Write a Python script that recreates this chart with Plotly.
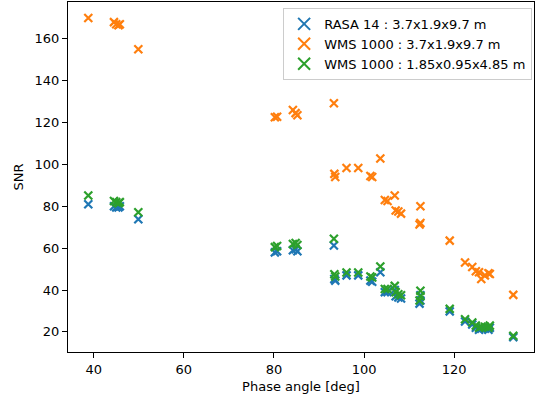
import plotly.graph_objects as go

phase = [38.8, 44.5, 45.0, 45.5, 45.8, 49.9, 80.2, 80.7, 84.2, 84.8, 85.2, 93.3, 93.4, 93.6,
         96.1, 98.7, 101.4, 101.8, 103.6, 104.6, 105.2, 106.8, 107.0, 107.6, 108.2, 112.5,
         112.3, 112.5, 119.0, 122.4, 124.0, 124.8, 125.5, 126.0, 126.8, 127.9, 127.6, 133.1]

snr_rasa = [81, 80, 79.5, 79.5, 80, 73.8, 58, 58.5, 59, 59.5, 58.5, 61.3, 45.3, 44.5,
            47, 47, 44.5, 44, 48.5, 39, 39, 40, 37, 36.5, 36, 37.5,
            33.5, 35, 29.8, 25, 23.5, 22, 21, 21.5, 21.5, 22, 21, 17.5]

snr_wms_big = [170, 168, 167, 166.5, 167, 155, 122.5, 122.8, 126, 124.5, 123.5, 129.2, 95.5, 94,
               98.3, 98.3, 94.5, 94, 102.8, 83, 82.5, 85.2, 78, 77.5, 76.5, 80,
               71.3, 72, 63.6, 53.2, 51, 49, 48.5, 45.3, 47, 47.7, 48, 37.7]

snr_wms_small = [85.2, 82.5, 82, 81.5, 82, 77.2, 60.5, 61, 62, 62.5, 61.5, 64.5, 47.5, 46.5,
                 48.4, 48.4, 46.5, 46, 51.2, 40.5, 40.5, 42, 39, 38, 37.5, 39.7,
                 35, 37, 31, 26, 24.5, 23, 22, 22.5, 22.5, 23, 22, 18.1]

names = ["RASA 14 : 3.7x1.9x9.7 m", "WMS 1000 : 3.7x1.9x9.7 m", "WMS 1000 : 1.85x0.95x4.85 m"]
colors = ["#1f77b4", "#ff7f0e", "#2ca02c"]
series = [snr_rasa, snr_wms_big, snr_wms_small]

fig = go.Figure()
for name, col, ys in zip(names, colors, series):
    fig.add_trace(go.Scatter(
        x=phase, y=ys, mode="markers", name=name,
        marker=dict(symbol="x-thin", size=8, line=dict(width=2.2, color=col), color=col),
    ))

font = dict(family="DejaVu Sans", size=13, color="black")
fig.update_layout(
    width=535, height=398, autosize=False,
    margin=dict(l=68, r=1, t=2, b=46, autoexpand=False),
    paper_bgcolor="white", plot_bgcolor="white",
    font=font,
    showlegend=True,
    legend=dict(x=0.996, y=0.983, xanchor="right", yanchor="top",
                bgcolor="rgba(255,255,255,0.8)", bordercolor="#cccccc", borderwidth=1,
                font=font, itemsizing="constant", tracegroupgap=0),
    xaxis=dict(range=[34.3, 137.7], tickvals=[40, 60, 80, 100, 120], showgrid=False, zeroline=False,
               showline=True, linecolor="black", linewidth=1, mirror=True, automargin=False,
               ticks="outside", ticklen=5, tickcolor="black",
               title=dict(text="Phase angle [deg]", font=font, standoff=6)),
    yaxis=dict(range=[10.4, 177.6], tickvals=[20, 40, 60, 80, 100, 120, 140, 160], showgrid=False, zeroline=False,
               showline=True, linecolor="black", linewidth=1, mirror=True, automargin=False,
               ticks="outside", ticklen=5, tickcolor="black",
               title=dict(text="SNR", font=font, standoff=8)),
)

fig.write_html(
    "out.html",
    config={"responsive": False, "displayModeBar": False},
    post_script="document.body.style.margin='0';document.body.style.overflow='hidden';",
)
